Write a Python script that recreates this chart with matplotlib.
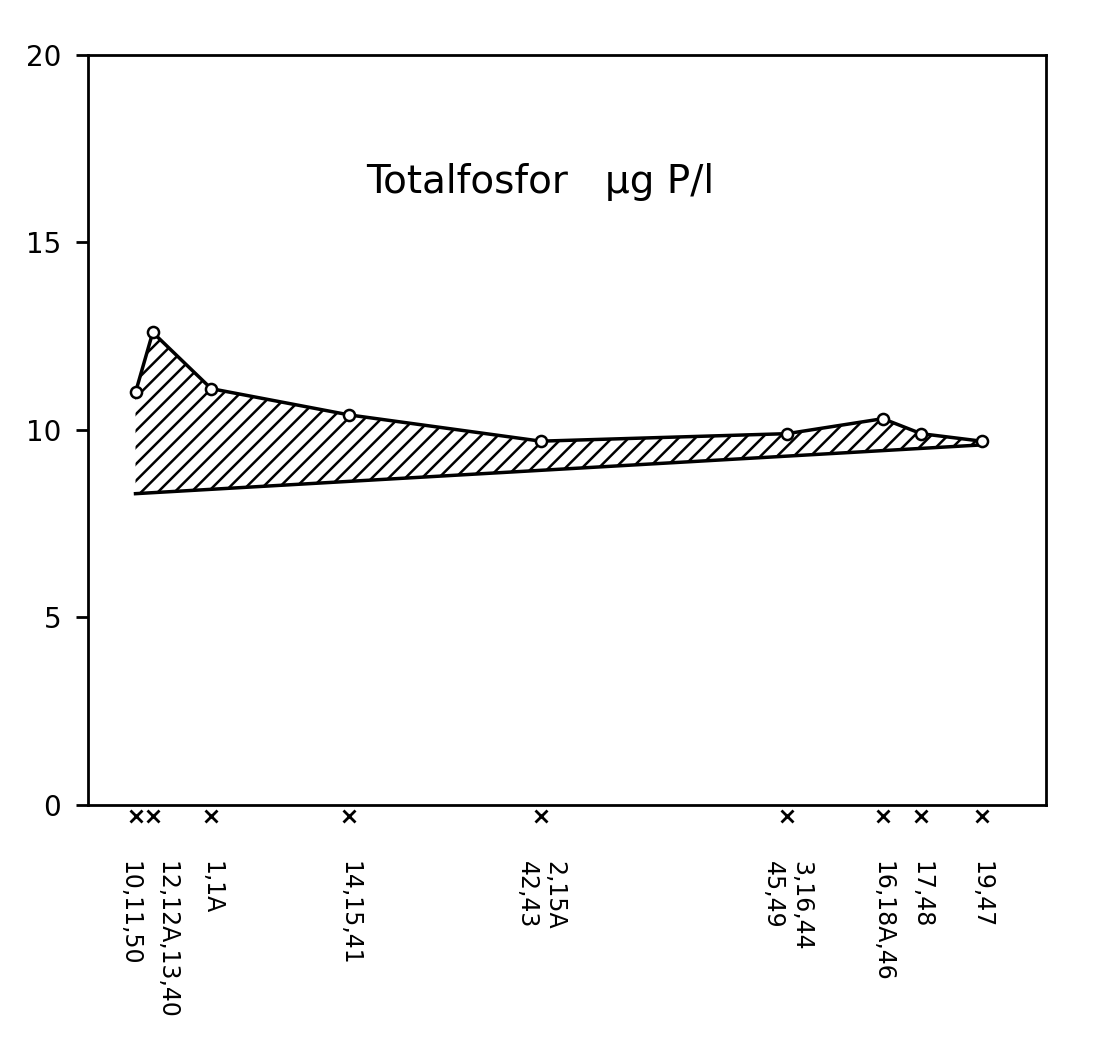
import numpy as np
import matplotlib
matplotlib.use('Agg')
import matplotlib.pyplot as plt
from matplotlib.transforms import offset_copy, ScaledTranslation

# sampling positions along the section (relative units) and station labels
pos = [5.0, 6.8, 12.9, 27.3, 47.3, 73.0, 83.0, 87.0, 93.3]
stations = ['10,11,50', '12,12A,13,40', '1,1A', '14,15,41', '2,15A\n42,43',
            '3,16,44\n45,49', '16,18A,46', '17,48', '19,47']
totp = [11.0, 12.6, 11.1, 10.4, 9.7, 9.9, 10.3, 9.9, 9.7]

# straight lower boundary of the hatched band
base_x = [5.0, 93.3]
base_y = [8.3, 9.6]

plt.rcParams['hatch.linewidth'] = 1.8
plt.rcParams['font.family'] = 'DejaVu Sans'

fig = plt.figure(figsize=(10.95, 10.55), dpi=100)
ax = fig.add_axes([0.08, 0.237, 0.875, 0.711])

x = np.array(pos)
low = np.interp(x, base_x, base_y)
ax.fill_between(x, low, totp, facecolor='none', edgecolor='black',
                hatch='//', linewidth=0)
ax.plot(base_x, base_y, color='black', lw=2.5)
ax.plot(pos, totp, color='black', lw=2.5, marker='o', ms=8,
        mfc='white', mec='black', mew=1.8, zorder=3)

ax.set_xlim(0, 100)
ax.set_ylim(0, 20)
ax.set_yticks([0, 5, 10, 15, 20])
ax.tick_params(axis='y', direction='out', length=9, width=2, pad=10,
               labelsize=20)

ax.set_xticks(pos)
ax.set_xticklabels(stations, rotation=270, fontsize=17, ha='center',
                   va='top', multialignment='left')
ax.tick_params(axis='x', length=0, pad=40)

# the first two stations sit close together: nudge their labels apart
labels = ax.get_xticklabels()
labels[0].set_transform(labels[0].get_transform()
                        + ScaledTranslation(-6 / 100, 0, fig.dpi_scale_trans))
labels[1].set_transform(labels[1].get_transform()
                        + ScaledTranslation(14 / 100, 0, fig.dpi_scale_trans))

# small cross marks under the axis at each station
mark_tr = offset_copy(ax.get_xaxis_transform(), fig=fig, y=-8, units='points')
ax.plot(pos, [0] * len(pos), transform=mark_tr, ls='none', marker='x',
        ms=9, mew=2, color='black', clip_on=False)

for s in ax.spines.values():
    s.set_linewidth(2)

ax.text(0.472, 0.83, 'Totalfosfor   µg P/l', transform=ax.transAxes,
        ha='center', va='center', fontsize=28)

fig.savefig('out.png', dpi=100)
